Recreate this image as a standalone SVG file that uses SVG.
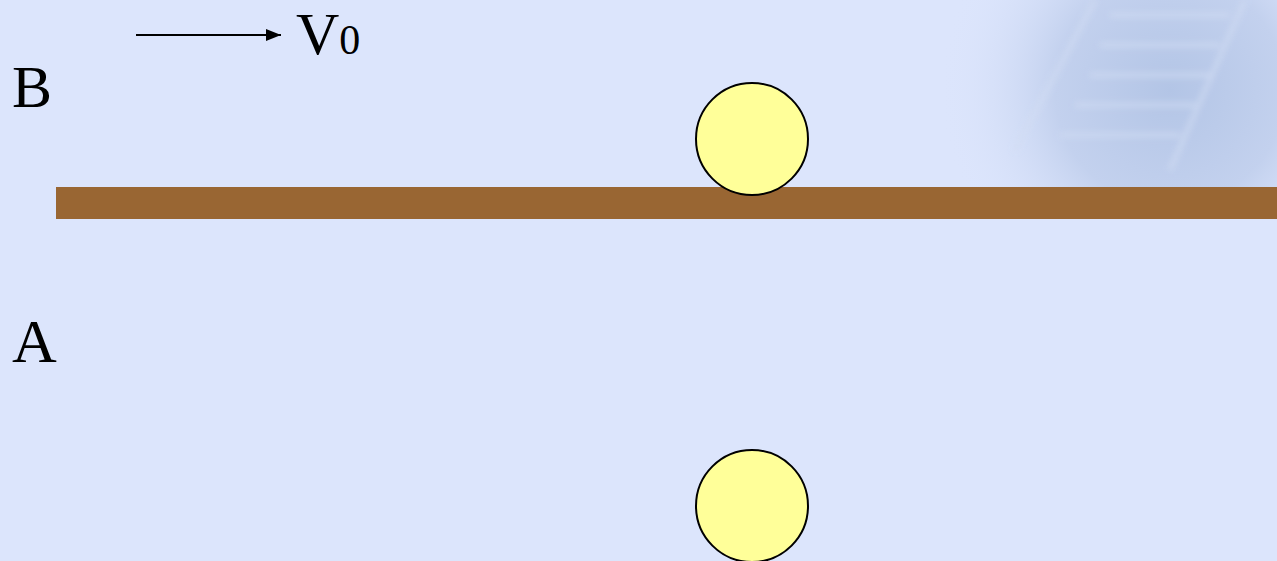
<svg xmlns="http://www.w3.org/2000/svg" width="1277" height="561" viewBox="0 0 1277 561">
<defs>
<style>
.lbl{font-family:"Liberation Serif","Times New Roman",serif;fill:#000}
.ball{fill:#ffff99;stroke:#000;stroke-width:2}
</style>
<radialGradient id="deco" cx="1170" cy="90" r="230" gradientUnits="userSpaceOnUse">
<stop offset="0" stop-color="#b3c5e6"/>
<stop offset="0.5" stop-color="#c3d1ee"/>
<stop offset="1" stop-color="#dce5fc" stop-opacity="0"/>
</radialGradient>
<filter id="soft" x="-20%" y="-20%" width="140%" height="140%"><feGaussianBlur stdDeviation="3"/></filter>
<marker id="ah" markerWidth="15" markerHeight="12" refX="15" refY="6" orient="auto" markerUnits="userSpaceOnUse" viewBox="0 0 15 12">
<path d="M0,0 L15,6 L0,12 Z" fill="#000"/>
</marker>
</defs>
<rect width="1277" height="561" fill="#dce5fc"/>
<rect x="900" y="0" width="377" height="190" fill="url(#deco)"/>
<g stroke="#d2ddf3" stroke-width="4" fill="none" opacity="0.8" filter="url(#soft)">
<path d="M1015,150 L1095,0"/>
<path d="M1170,170 L1245,0"/>
<path d="M1110,15 L1230,15 M1100,45 L1220,45 M1090,75 L1210,75 M1075,105 L1195,105 M1060,135 L1180,135"/>
</g>
<g id="bar"><rect x="56" y="187" width="1221" height="32" fill="#996633"/></g>
<g id="ballB"><circle class="ball" cx="752" cy="139" r="56"/></g>
<g id="ballA"><circle class="ball" cx="752" cy="506" r="56"/></g>
<g id="labelB"><text class="lbl" x="12" y="107" font-size="60">B</text></g>
<g id="labelA"><text class="lbl" x="12" y="362" font-size="62">A</text></g>
<g id="connectors">
<line x1="136" y1="35" x2="281" y2="35" stroke="#000" stroke-width="2" marker-end="url(#ah)"/>
</g>
<g id="labelV"><text class="lbl" x="296" y="54" font-size="60">V<tspan font-size="42">0</tspan></text></g>
</svg>
